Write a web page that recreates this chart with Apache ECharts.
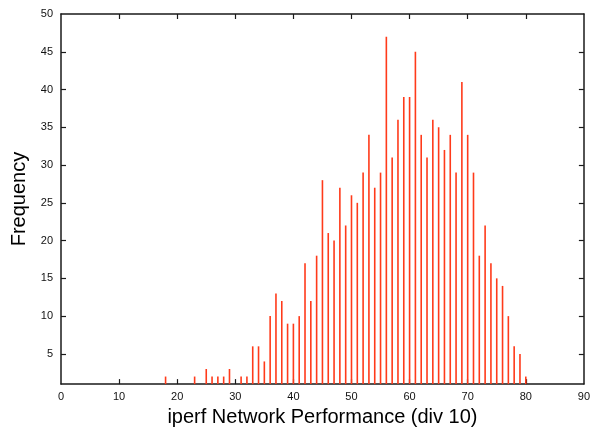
<!DOCTYPE html>
<html>
<head>
<meta charset="utf-8">
<script src="https://cdn.jsdelivr.net/npm/echarts@6/dist/echarts.min.js"></script>
<style>html,body{margin:0;padding:0;background:#fff}#c{width:593px;height:432px}</style>
</head>
<body>
<div id="c"></div>
<script>
// Histogram bins (div 10) and their frequencies
const bins = [18, 23, 25, 26, 27, 28, 29, 31, 32, 33, 34, 35, 36, 37, 38, 39, 40, 41, 42, 43, 44, 45, 46, 47, 48, 49, 50,
  51, 52, 53, 54, 55, 56, 57, 58, 59, 60, 61, 62, 63, 64, 65, 66, 67, 68, 69, 70, 71, 72, 73, 74, 75, 76, 77, 78, 79, 80];
const freq = [2, 2, 3, 2, 2, 2, 3, 2, 2, 6, 6, 4, 10, 13, 12, 9, 9, 10, 17, 12, 18, 28, 21, 20, 27, 22, 26,
  25, 29, 34, 27, 29, 47, 31, 36, 39, 39, 45, 34, 31, 36, 35, 32, 34, 29, 41, 34, 29, 18, 22, 17, 15, 14, 10, 6, 5, 2];
const xTicks = [0, 10, 20, 30, 40, 50, 60, 70, 80, 90];
const yTicks = [5, 10, 15, 20, 25, 30, 35, 40, 45, 50];
const xTitle = 'iperf Network Performance (div 10)';
const yTitle = 'Frequency';

const font = "'Liberation Sans', Arial, Helvetica, sans-serif";
const lineStyle = { color: '#1a1a1a', width: 1.5 };
const chart = echarts.init(document.getElementById('c'), null, { renderer: 'canvas' });
chart.setOption({
  animation: false,
  grid: { left: 61, right: 9, top: 14, bottom: 46 },
  xAxis: [{
    type: 'value', min: 0, max: 90, interval: 10, position: 'bottom',
    axisLine: { show: true, onZero: false, lineStyle },
    axisTick: { show: true, inside: true, length: 5, lineStyle: { color: '#1a1a1a', width: 1.2 }, customValues: xTicks.slice(1, -1) },
    axisLabel: { color: '#111', fontFamily: font, fontSize: 11, margin: 7, customValues: xTicks },
    splitLine: { show: false },
    name: xTitle, nameLocation: 'middle', nameGap: 15,
    nameTextStyle: { color: '#000', fontFamily: font, fontSize: 20, verticalAlign: 'top' }
  }, {
    type: 'value', min: 0, max: 90, interval: 10, position: 'top',
    axisLine: { show: true, onZero: false, lineStyle },
    axisTick: { show: true, inside: true, length: 5, lineStyle: { color: '#1a1a1a', width: 1.2 }, customValues: xTicks.slice(1, -1) },
    axisLabel: { show: false },
    splitLine: { show: false }
  }],
  yAxis: [{
    type: 'value', min: 1, max: 50, position: 'left',
    axisLine: { show: true, onZero: false, lineStyle },
    axisTick: { show: true, inside: true, length: 5, lineStyle: { color: '#1a1a1a', width: 1.2 }, customValues: yTicks.slice(0, -1) },
    axisLabel: { color: '#111', fontFamily: font, fontSize: 11, margin: 8, customValues: yTicks },
    splitLine: { show: false },
    name: yTitle, nameLocation: 'middle', nameGap: 32, nameRotate: 90,
    nameTextStyle: { color: '#000', fontFamily: font, fontSize: 20 }
  }, {
    type: 'value', min: 1, max: 50, position: 'right',
    axisLine: { show: true, onZero: false, lineStyle },
    axisTick: { show: true, inside: true, length: 5, lineStyle: { color: '#1a1a1a', width: 1.2 }, customValues: yTicks.slice(0, -1) },
    axisLabel: { show: false },
    splitLine: { show: false }
  }],
  series: [{
    type: 'bar',
    xAxisIndex: 0, yAxisIndex: 0,
    barWidth: 1.6,
    itemStyle: { color: '#ff3a1a' },
    data: bins.map((b, i) => [b, freq[i]]),
    z: 1
  }]
});
</script>
</body>
</html>
